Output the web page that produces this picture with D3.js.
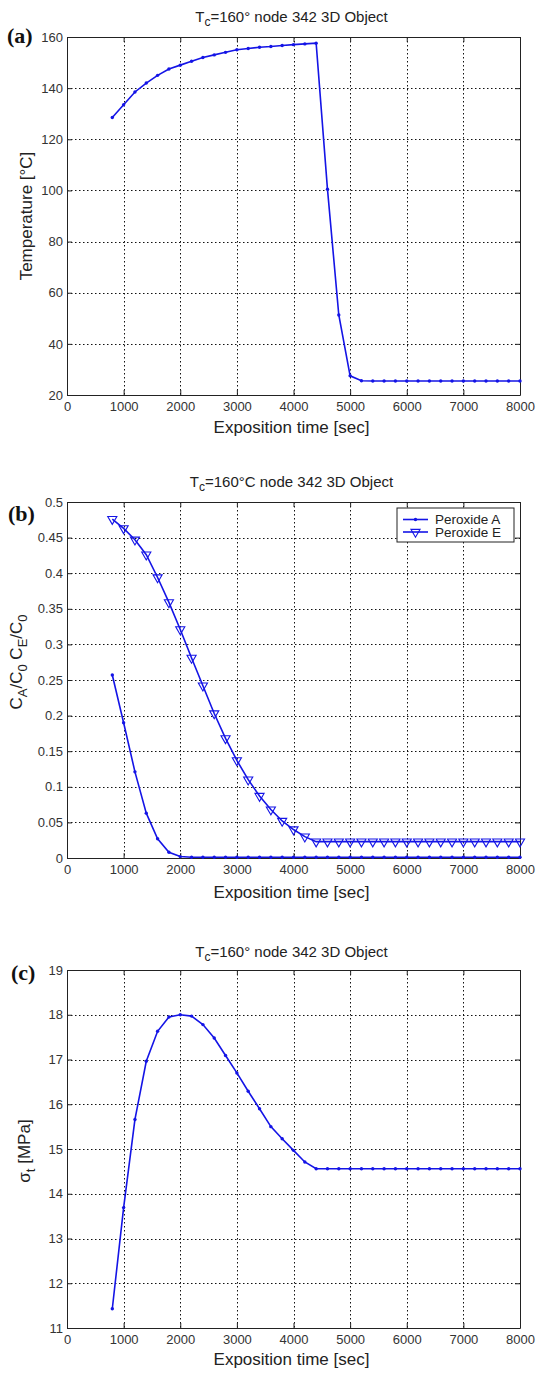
<!DOCTYPE html>
<html>
<head>
<meta charset="utf-8">
<script src="https://cdn.jsdelivr.net/npm/d3@7"></script>
<style>
  html, body { margin: 0; padding: 0; background: #fff; }
  svg { display: block; }
</style>
</head>
<body>
<svg id="chart" width="540" height="1373"></svg>
<script>
// ---------------- DATA ----------------
const time = [800, 1000, 1200, 1400, 1600, 1800, 2000, 2200, 2400, 2600, 2800, 3000,
  3200, 3400, 3600, 3800, 4000, 4200, 4400, 4600, 4800, 5000, 5200, 5400, 5600,
  5800, 6000, 6200, 6400, 6600, 6800, 7000, 7200, 7400, 7600, 7800, 8000];

const temperature = [128.5, 133.5, 138.5, 142, 145, 147.5, 149, 150.5, 152, 153, 154, 155,
  155.5, 156, 156.3, 156.7, 157, 157.3, 157.6, 100.5, 51.3, 27.5, 25.6, 25.5, 25.5,
  25.5, 25.5, 25.5, 25.5, 25.5, 25.5, 25.5, 25.5, 25.5, 25.5, 25.5, 25.5];

const peroxideA = [0.257, 0.19, 0.121, 0.063, 0.027, 0.008, 0.002, 0.001, 0.001, 0.001, 0.001, 0.001,
  0.001, 0.001, 0.001, 0.001, 0.001, 0.001, 0.001, 0.001, 0.001, 0.001, 0.001, 0.001, 0.001,
  0.001, 0.001, 0.001, 0.001, 0.001, 0.001, 0.001, 0.001, 0.001, 0.001, 0.001, 0.001];

const peroxideE = [0.476, 0.463, 0.447, 0.426, 0.394, 0.359, 0.321, 0.281, 0.242, 0.203, 0.168, 0.137,
  0.110, 0.087, 0.068, 0.052, 0.040, 0.030, 0.023, 0.023, 0.023, 0.023, 0.023, 0.023, 0.023,
  0.023, 0.023, 0.023, 0.023, 0.023, 0.023, 0.023, 0.023, 0.023, 0.023, 0.023, 0.023];

const sigma = [11.43, 13.69, 15.66, 16.96, 17.63, 17.95, 18.0, 17.97, 17.78, 17.48, 17.09, 16.70,
  16.29, 15.90, 15.50, 15.23, 14.97, 14.71, 14.56, 14.56, 14.56, 14.56, 14.56, 14.56, 14.56,
  14.56, 14.56, 14.56, 14.56, 14.56, 14.56, 14.56, 14.56, 14.56, 14.56, 14.56, 14.56];

const xTicks = [0, 1000, 2000, 3000, 4000, 5000, 6000, 7000, 8000];
const tempTicks = [20, 40, 60, 80, 100, 120, 140, 160];
const concTicks = [0, 0.05, 0.1, 0.15, 0.2, 0.25, 0.3, 0.35, 0.4, 0.45, 0.5];
const sigmaTicks = [11, 12, 13, 14, 15, 16, 17, 18, 19];

const seriesNames = ["Peroxide A", "Peroxide E"];
const xLabel = "Exposition time [sec]";

// ---------------- DRAW ----------------
const SANS = "'Liberation Sans', Arial, sans-serif";
const SERIF = "'Liberation Serif', 'Times New Roman', serif";
const BLUE = "#1414e6";
const svg = d3.select("#chart");
svg.append("rect").attr("width", 540).attr("height", 1373).attr("fill", "#fff");

const L = 67, R = 520;
const x = d3.scaleLinear().domain([0, 8000]).range([L, R]);

function panel(cfg) {
  const g = svg.append("g");
  const y = d3.scaleLinear().domain(cfg.domain).range([cfg.bottom, cfg.top]);

  // grid
  const grid = g.append("g").attr("stroke", "#111").attr("stroke-width", 1)
    .attr("stroke-dasharray", "1.5,2.5");
  grid.selectAll(".gx").data(xTicks.slice(1, -1)).join("line")
    .attr("x1", d => Math.round(x(d)) + 0.5).attr("x2", d => Math.round(x(d)) + 0.5)
    .attr("y1", cfg.top).attr("y2", cfg.bottom);
  grid.selectAll(".gy").data(cfg.ticks.slice(1, -1)).join("line")
    .attr("y1", d => Math.round(y(d)) + 0.5).attr("y2", d => Math.round(y(d)) + 0.5)
    .attr("x1", L).attr("x2", R);

  // axes (inward ticks, MATLAB style box)
  const styleAxis = sel => {
    sel.selectAll("path.domain").attr("stroke", "#222").attr("stroke-width", 1);
    sel.selectAll(".tick line").attr("stroke", "#222");
    sel.selectAll("text").attr("fill", "#333").style("font-size", "13px")
      .style("font-family", SANS);
  };
  g.append("g").attr("transform", `translate(0,${cfg.bottom})`)
    .call(d3.axisBottom(x).tickValues(xTicks).tickSize(-5).tickPadding(7).tickSizeOuter(0)
      .tickFormat(d => String(d)))
    .call(styleAxis);
  g.append("g").attr("transform", `translate(0,${cfg.top})`)
    .call(d3.axisTop(x).tickValues(xTicks).tickSize(-5).tickFormat("").tickSizeOuter(0))
    .call(styleAxis);
  g.append("g").attr("transform", `translate(${L},0)`)
    .call(d3.axisLeft(y).tickValues(cfg.ticks).tickSize(-5).tickPadding(4).tickSizeOuter(0)
      .tickFormat(d => String(d)))
    .call(styleAxis);
  g.append("g").attr("transform", `translate(${R},0)`)
    .call(d3.axisRight(y).tickValues(cfg.ticks).tickSize(-5).tickFormat("").tickSizeOuter(0))
    .call(styleAxis);

  // series
  cfg.series.forEach(s => {
    const pts = time.map((t, i) => ({ t, v: s.values[i] }));
    g.append("path").datum(pts)
      .attr("fill", "none").attr("stroke", BLUE).attr("stroke-width", 1.6)
      .attr("d", d3.line().x(d => x(d.t)).y(d => y(d.v)));
    if (s.marker === "dot") {
      g.append("g").selectAll("circle").data(pts).join("circle")
        .attr("cx", d => x(d.t)).attr("cy", d => y(d.v)).attr("r", 1.7).attr("fill", BLUE);
    } else {
      g.append("g").selectAll("path").data(pts).join("path")
        .attr("d", d3.symbol(d3.symbolTriangle, 36))
        .attr("transform", d => `translate(${x(d.t)},${y(d.v)}) rotate(180)`)
        .attr("fill", "none").attr("stroke", BLUE).attr("stroke-width", 1.1);
    }
  });

  // title
  const title = g.append("text").attr("x", (L + R) / 2 - 2).attr("y", cfg.titleY)
    .attr("text-anchor", "middle").style("font-size", "15px").style("font-family", SANS)
    .attr("fill", "#222");
  title.append("tspan").text("T");
  title.append("tspan").text("c").attr("dy", 4).style("font-size", "12px");
  title.append("tspan").text(cfg.titleRest).attr("dy", -4);

  // x label
  g.append("text").attr("x", (L + R) / 2 - 2).attr("y", cfg.xLabelY)
    .attr("text-anchor", "middle").style("font-size", "17px").style("font-family", SANS)
    .attr("fill", "#222").text(xLabel);

  // y label
  const yl = g.append("text")
    .attr("transform", `translate(${cfg.yLabelX},${cfg.yLabelY}) rotate(-90)`)
    .attr("text-anchor", "middle").style("font-size", "17px").style("font-family", SANS)
    .attr("fill", "#222");
  cfg.yLabel.forEach(p => {
    const ts = yl.append("tspan").text(p.t);
    if (p.sub) ts.attr("dy", 5).style("font-size", "13px");
    if (p.up) ts.attr("dy", -5);
  });

  // panel tag
  g.append("text").attr("x", cfg.tagX).attr("y", cfg.tagY)
    .style("font-family", SERIF).style("font-weight", "bold").style("font-size", "22px")
    .attr("fill", "#111").text(cfg.tag);

  return { g, y };
}

// (a)
panel({
  top: 37, bottom: 395, domain: [20, 160], ticks: tempTicks,
  series: [{ values: temperature, marker: "dot" }],
  titleY: 22, titleRest: "=160° node 342 3D Object",
  xLabelY: 433, yLabelX: 32, yLabelY: 216,
  yLabel: [{ t: "Temperature [°C]" }],
  tag: "(a)", tagX: 7, tagY: 43
});

// (b)
const pb = panel({
  top: 502, bottom: 858, domain: [0, 0.5], ticks: concTicks,
  series: [{ values: peroxideA, marker: "dot" }, { values: peroxideE, marker: "tri" }],
  titleY: 487, titleRest: "=160°C node 342 3D Object",
  xLabelY: 898, yLabelX: 22, yLabelY: 662,
  yLabel: [{ t: "C" }, { t: "A", sub: true }, { t: "/C", up: true }, { t: "0", sub: true },
           { t: " C", up: true }, { t: "E", sub: true }, { t: "/C", up: true }, { t: "0", sub: true }],
  tag: "(b)", tagX: 8, tagY: 521
});

// legend for (b)
{
  const lg = pb.g.append("g");
  lg.append("rect").attr("x", 397).attr("y", 508).attr("width", 117).attr("height", 34)
    .attr("fill", "#fff").attr("stroke", "#222").attr("stroke-width", 1);
  seriesNames.forEach((name, i) => {
    const cy = 519.5 + i * 12.5;
    lg.append("line").attr("x1", 403).attr("x2", 428).attr("y1", cy).attr("y2", cy)
      .attr("stroke", BLUE).attr("stroke-width", 1.6);
    if (i === 0) {
      lg.append("circle").attr("cx", 415.5).attr("cy", cy).attr("r", 1.7).attr("fill", BLUE);
    } else {
      lg.append("path").attr("d", d3.symbol(d3.symbolTriangle, 36))
        .attr("transform", `translate(415.5,${cy}) rotate(180)`)
        .attr("fill", "none").attr("stroke", BLUE).attr("stroke-width", 1.1);
    }
    lg.append("text").attr("x", 435).attr("y", cy).attr("dy", "0.35em")
      .style("font-size", "13.5px").style("font-family", SANS).attr("fill", "#222").text(name);
  });
}

// (c)
panel({
  top: 970, bottom: 1328, domain: [11, 19], ticks: sigmaTicks,
  series: [{ values: sigma, marker: "dot" }],
  titleY: 957, titleRest: "=160° node 342 3D Object",
  xLabelY: 1365, yLabelX: 30, yLabelY: 1151,
  yLabel: [{ t: "σ" }, { t: "t", sub: true }, { t: " [MPa]", up: true }],
  tag: "(c)", tagX: 11, tagY: 980
});
</script>
</body>
</html>
